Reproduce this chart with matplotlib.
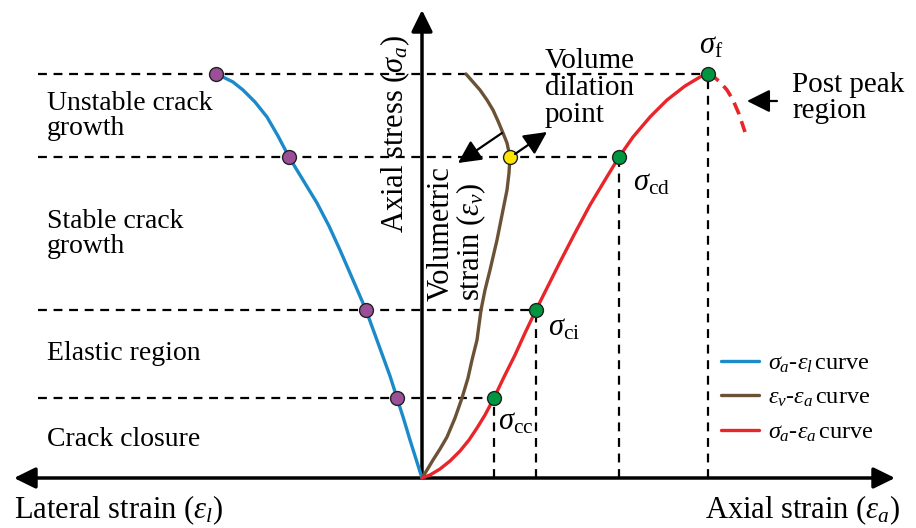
import matplotlib
matplotlib.use("Agg")
import matplotlib.pyplot as plt

plt.rcParams['font.family'] = ['Liberation Serif', 'DejaVu Serif']
plt.rcParams['mathtext.fontset'] = 'custom'
plt.rcParams['mathtext.rm'] = 'Liberation Serif'
plt.rcParams['mathtext.it'] = 'Liberation Serif:italic'
plt.rcParams['mathtext.bf'] = 'Liberation Serif:bold'

# stress thresholds (arbitrary units) : cc, ci, cd, f
stress_levels = [80, 168, 321, 404]
axial_at_levels = [72, 114, 197, 286]
lateral_at_levels = [-25, -56, -133, -206]
level_names = [r'$\sigma_{\rm cc}$', r'$\sigma_{\rm ci}$', r'$\sigma_{\rm cd}$', r'$\sigma_{\rm f}$']
region_names = ['Crack closure', 'Elastic region', 'Stable crack\ngrowth', 'Unstable crack\ngrowth']
region_y = [38, 124, 244, 362]

# sigma_a - eps_l curve
lat_x = [0, -6, -12, -18, -25, -32, -40, -48, -56, -69, -82, -93, -105, -119, -133,
         -144, -155, -167, -179, -189, -197, -206]
lat_y = [0, 19, 38, 58, 80, 102, 124, 146, 168, 198, 228, 252, 275, 298, 321,
         342, 361, 376, 388, 396, 400, 404]

# sigma_a - eps_a curve (pre peak)
ax_x = [0, 8, 18, 28, 38, 47, 55, 63, 72, 82, 93, 103, 114, 126, 138, 153, 168,
        183, 197, 211, 228, 245, 263, 278, 286]
ax_y = [0, 3, 9, 17, 27, 38, 50, 63, 80, 101, 123, 145, 168, 192, 216, 245, 273,
        298, 321, 341, 361, 378, 392, 401, 404]
# post peak part
pp_x = [286, 292, 298, 305, 311, 317, 323]
pp_y = [404, 401, 396, 388, 378, 364, 346]

# eps_v - eps_a curve
vol_x = [0, 5, 11, 18, 25, 33, 40, 46, 50, 55, 59, 63, 68, 75, 80, 85, 87, 88,
         85, 81, 76, 71, 65, 58, 51, 44]
vol_y = [0, 8, 18, 29, 41, 60, 80, 100, 118, 138, 168, 188, 208, 238, 263, 288, 305, 321,
         335, 345, 357, 368, 378, 388, 396, 404]
dilation_pt = (88, 321)

blue = '#1a8ac8'
brown = '#6b5236'
red = '#e8262a'
purple = '#9b4f96'
green = '#00963f'

fig = plt.figure(figsize=(9.16, 5.28), dpi=100)
ax = fig.add_axes([0, 0, 1, 1])
ax.set_xlim(-422, 494)
ax.set_ylim(-50, 478)
ax.axis('off')

# dashed guide lines
for s, a in zip(stress_levels, axial_at_levels):
    ax.plot([-384, a], [s, s], color='k', lw=1.6, ls=(0, (4, 3)), zorder=1)
    ax.plot([a, a], [0, s], color='k', lw=1.6, ls=(0, (4, 3)), zorder=1)

# axes with arrows
arr = dict(arrowstyle='-|>,head_length=0.65,head_width=0.32', lw=2.5, color='k',
           mutation_scale=20, shrinkA=0, shrinkB=0)
ax.annotate('', xy=(-408, 0), xytext=(0, 0), arrowprops=arr, zorder=2)
ax.annotate('', xy=(473, 0), xytext=(0, 0), arrowprops=arr, zorder=2)
ax.annotate('', xy=(0, 468), xytext=(0, 0), arrowprops=arr, zorder=2)

# curves
ax.plot(lat_x, lat_y, color=blue, lw=2.4, zorder=3, solid_capstyle='round',
        solid_joinstyle='round', label=r'$\sigma_a$-$\varepsilon_l\,$curve')
ax.plot(vol_x, vol_y, color=brown, lw=2.4, zorder=3, solid_capstyle='round',
        solid_joinstyle='round', label=r'$\varepsilon_v$-$\varepsilon_a\,$curve')
ax.plot(ax_x, ax_y, color=red, lw=2.4, zorder=3, solid_capstyle='round',
        solid_joinstyle='round', label=r'$\sigma_a$-$\varepsilon_a\,$curve')
ax.plot(pp_x, pp_y, color=red, lw=2.6, ls=(0, (3.5, 2)), zorder=3)

# markers
ax.plot(lateral_at_levels, stress_levels, 'o', ms=10, mfc=purple, mec='#222222', mew=1, zorder=4)
ax.plot(axial_at_levels, stress_levels, 'o', ms=10, mfc=green, mec='#222222', mew=1, zorder=4)
ax.plot(*dilation_pt, 'o', ms=10, mfc='#ffe600', mec='#222222', mew=1, zorder=4)

# threshold labels
offs = [(3, -17), (9, -13), (10, -19), (2, 20)]
for a, s, name, o in zip(axial_at_levels, stress_levels, level_names, offs):
    ha = 'center' if name == level_names[-1] else 'left'
    ax.annotate(name, xy=(a, s), xytext=o, textcoords='offset points',
                fontsize=22, ha=ha, va='center', zorder=5)

# region labels
for name, y in zip(region_names, region_y):
    ax.text(-375, y, name, fontsize=20, ha='left', va='center', linespacing=0.95)

# axis titles
ax.text(-408, -32, r'Lateral strain ($\varepsilon_l$)', fontsize=22, ha='left', va='center')
ax.text(478, -32, r'Axial strain ($\varepsilon_a$)', fontsize=22, ha='right', va='center')
ax.text(-27, 344, r'Axial stress ($\sigma_a$)', fontsize=22, rotation=90, ha='center', va='center')
ax.text(35, 244, 'Volumetric\nstrain ($\\varepsilon_v$)', fontsize=22, rotation=90,
        ha='center', va='center', multialignment='left', linespacing=0.95)

# volume dilation point
ax.text(123, 390, 'Volume\ndilation\npoint', fontsize=21, ha='left', va='center', linespacing=1.05)
harr = dict(arrowstyle='-|>,head_length=0.7,head_width=0.35', lw=1.6, color='k',
            mutation_scale=20, shrinkA=0, shrinkB=0)
ax.annotate('', xy=(36, 315), xytext=(80, 345), arrowprops=harr, zorder=5)
ax.annotate('', xy=(125, 346), xytext=(93, 324), arrowprops=harr, zorder=5)

# post peak
ax.text(370, 380, 'Post peak\nregion', fontsize=21, ha='left', va='center', linespacing=1.0)
ax.annotate('', xy=(325, 377), xytext=(355, 377), arrowprops=harr, zorder=5)

ax.legend(loc='center left', bbox_to_anchor=(0.787, 0.246), frameon=False, fontsize=17.5,
          handlelength=1.55, handletextpad=0.4, labelspacing=0.5, borderpad=0, borderaxespad=0)

fig.savefig('out.png', dpi=100)
